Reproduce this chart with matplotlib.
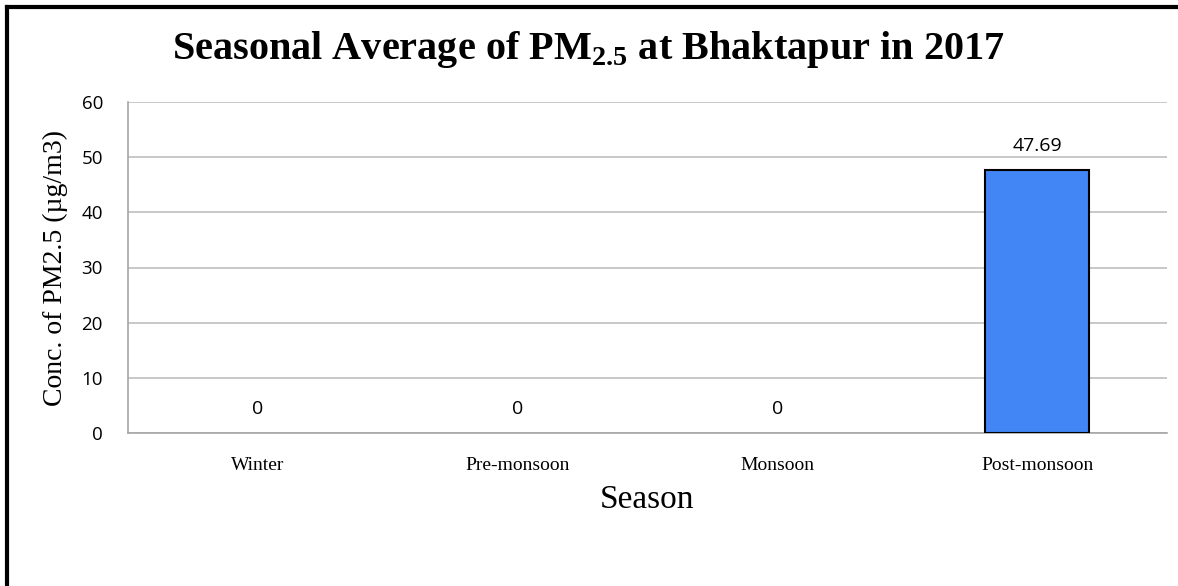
import matplotlib
matplotlib.use("Agg")
import matplotlib.pyplot as plt
from matplotlib.lines import Line2D

# Data
seasons = ["Winter", "Pre-monsoon", "Monsoon", "Post-monsoon"]
pm25 = [0, 0, 0, 47.69]
value_labels = ["0", "0", "0", "47.69"]

SERIF = "Liberation Serif"
SANS = "Open Sans"

plt.rcParams["mathtext.fontset"] = "custom"
plt.rcParams["mathtext.bf"] = "Liberation Serif:bold"
plt.rcParams["mathtext.rm"] = "Liberation Serif"

fig = plt.figure(figsize=(11.78, 5.86), dpi=100)
ax = fig.add_axes([128 / 1178, 1 - 433 / 586, (1167 - 128) / 1178, (433 - 102) / 586])

x = range(len(seasons))
bars = ax.bar(x, pm25, width=0.4, color="#4285F4", edgecolor="black", linewidth=1.5, zorder=3)

for b, lab in zip(bars, value_labels):
    if b.get_height() == 0:
        b.set_linewidth(0)  # zero bars are invisible in the original
    ax.annotate(lab, (b.get_x() + b.get_width() / 2, b.get_height()),
                xytext=(0, 11), textcoords="offset points", ha="center", va="bottom",
                fontsize=14, family=SANS)

ax.set_xlim(-0.5, len(seasons) - 0.5)
ax.set_ylim(0, 60)
ax.set_yticks(range(0, 61, 10))
ax.set_xticks(list(x))
ax.set_xticklabels(seasons, family=SERIF, fontsize=14)
for t in ax.get_yticklabels():
    t.set_family(SANS)
    t.set_fontsize(13.5)
ax.tick_params(axis="both", length=0)
ax.tick_params(axis="x", pad=17)
ax.tick_params(axis="y", pad=18)

ax.yaxis.grid(True, color="#BFBFBF", linewidth=1.2, zorder=0)
ax.set_axisbelow(True)
for s in ["top", "right"]:
    ax.spines[s].set_visible(False)
ax.spines["left"].set_color("#A6A6A6")
ax.spines["bottom"].set_color("#A6A6A6")
ax.spines["left"].set_linewidth(1.2)
ax.spines["bottom"].set_linewidth(1.2)

ax.set_xlabel("Season", family=SERIF, fontsize=24, labelpad=8)
ax.set_ylabel("Conc. of PM2.5 (µg/m3)", family=SERIF, fontsize=20, labelpad=10)

fig.text(588 / 1178, 1 - 50 / 586, r"Seasonal Average of PM$_{\mathbf{2.5}}$ at Bhaktapur in 2017",
         family=SERIF, fontweight="bold", fontsize=29, ha="center", va="center")

# border (top and left only, as in the cropped screenshot)
fig.add_artist(Line2D([7 / 1178, 7 / 1178], [0, 1 - 7 / 586], color="black", linewidth=3, transform=fig.transFigure))
fig.add_artist(Line2D([7 / 1178, 1], [1 - 7 / 586, 1 - 7 / 586], color="black", linewidth=3, transform=fig.transFigure))

fig.savefig("out.png", dpi=100)
